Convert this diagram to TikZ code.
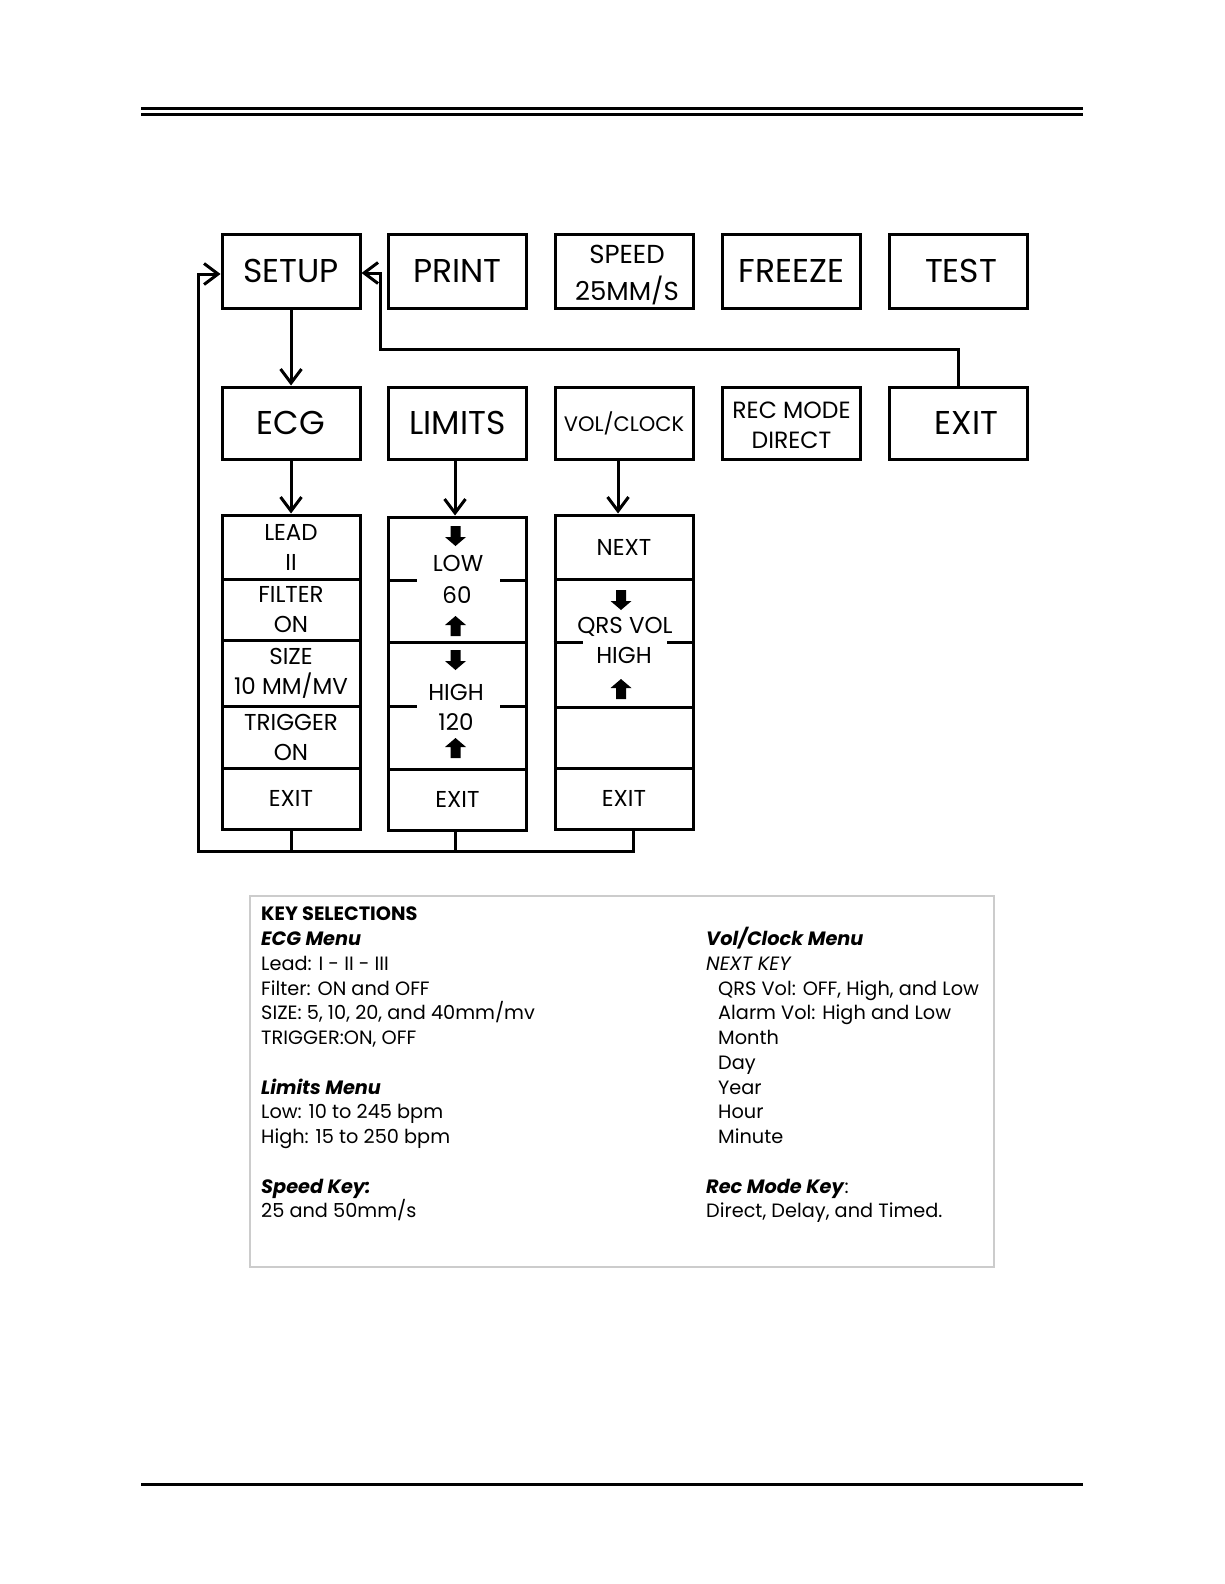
\documentclass[tikz,border=0pt]{standalone}
\usepackage{fontspec}
\setmainfont{Poppins}
\usetikzlibrary{arrows.meta}
\newcommand\fontbig{\fontsize{33}{40}\selectfont}
\newcommand\fontmid{\fontsize{26}{36}\selectfont}
\newcommand\fontsml{\fontsize{21}{30}\selectfont}
\newcommand\fontrec{\fontsize{23.5}{30}\selectfont}
\newcommand\fontcell{\fontsize{23}{30}\selectfont}
\newcommand\fontkey{\fontsize{19.3}{24.75}\selectfont}
\begin{document}
\begin{tikzpicture}[x=1pt,y=-1pt,
  key/.style={draw, line width=3pt, minimum width=138pt, inner sep=0pt, align=center},
  cell/.style={key, font=\fontcell},
  txt/.style={inner sep=0pt, align=center, font=\fontcell},
  wire/.style={draw, line width=3pt},
  arr/.style={wire, -{Straight Barb[length=14pt,width=21pt,line width=3pt]}},
  stub/.style={line width=3pt},
  dnarr/.pic={\fill (-5,-10) -- (5,-10) -- (5,1) -- (10.5,1) -- (0,10) -- (-10.5,1) -- (-5,1) -- cycle;},
  uparr/.pic={\fill (-5,10) -- (5,10) -- (5,-1) -- (10.5,-1) -- (0,-10) -- (-10.5,-1) -- (-5,-1) -- cycle;}
]
\useasboundingbox (0,0) rectangle (1224,1584);
% page rules
\draw[line width=3pt] (141,108.5) -- (1083,108.5);
\draw[line width=3pt] (141,114.5) -- (1083,114.5);
\draw[line width=3pt] (141,1484.5) -- (1083,1484.5);

% top row
\node[key, minimum height=74pt, font=\fontbig] (setup) at (291,271) {SETUP};
\node[key, minimum height=74pt, font=\fontbig] (print) at (457.5,271) {PRINT};
\node[key, minimum height=74pt, font=\fontmid] (speed) at (624,271) {};
\node[txt, font=\fontmid] (speedA) at (627,254) {SPEED};
\node[txt, font=\fontmid] (speedB) at (627,290) {25MM/S};
\node[key, minimum height=74pt, font=\fontbig] (freeze) at (791.5,271) {FREEZE};
\node[key, minimum height=74pt, font=\fontbig] (test) at (958.5,271) {\hspace*{5pt}TEST};
% second row
\node[key, minimum height=72pt, font=\fontbig] (ecg) at (291,423) {ECG};
\node[key, minimum height=72pt, font=\fontbig] (limits) at (457.5,423) {LIMITS};
\node[key, minimum height=72pt, font=\fontsml] (vol) at (624,423) {VOL/CLOCK};
\node[key, minimum height=72pt, font=\fontrec] (rec) at (791.5,423) {};
\node[txt, font=\fontrec] (recA) at (791.5,410) {REC MODE};
\node[txt, font=\fontrec] (recB) at (791.5,440) {DIRECT};
\node[key, minimum height=72pt, font=\fontbig] (exitb) at (958.5,423) {\hspace*{16pt}EXIT};

% ECG menu
\node[cell, minimum height=64pt] (lead) at (291,547) {LEAD\\II};
\node[cell, minimum height=61pt] (filter) at (291,609.5) {FILTER\\ON};
\node[cell, minimum height=66pt] (size) at (291,673) {SIZE\\10 MM/MV};
\node[cell, minimum height=62pt] (trigger) at (291,737) {TRIGGER\\ON};
\node[cell, minimum height=61pt] (ecgexit) at (291,798.5) {EXIT};

% Limits menu
\node[cell, minimum height=125pt] (limlow) at (457.5,579.5) {};
\node[cell, minimum height=127pt] (limhigh) at (457.5,705.5) {};
\node[cell, minimum height=61pt] (limexit) at (457.5,799.5) {EXIT};
\node[txt] (lowA) at (458,563) {LOW};
\node[txt] (lowB) at (457,595) {60};
\node[txt] (highA) at (456,692) {HIGH};
\node[txt] (highB) at (456,722) {120};
\draw[stub] (limlow.west |- 0,580) -- (417,580);
\draw[stub] (500,580) -- (limlow.east |- 0,580);
\draw[stub] (limhigh.west |- 0,706) -- (417,706);
\draw[stub] (500,706) -- (limhigh.east |- 0,706);
\pic at (455.5,536) {dnarr};
\pic at (455.5,626) {uparr};
\pic at (455.5,660) {dnarr};
\pic at (455.5,748) {uparr};

% Vol/Clock menu
\node[cell, minimum height=64pt] (next) at (624,547) {NEXT};
\node[cell, minimum height=128pt] (qrs) at (624,643) {};
\node[cell, minimum height=61pt] (blank) at (624,737.5) {};
\node[cell, minimum height=61pt] (volexit) at (624,798.5) {EXIT};
\node[txt] (qrsA) at (625,627) {QRS VOL};
\node[txt] (qrsB) at (624,655) {HIGH};
\draw[stub] (qrs.west |- 0,642) -- (583,642);
\draw[stub] (667,642) -- (qrs.east |- 0,642);
\pic at (621,600) {dnarr};
\pic at (621,689) {uparr};

% connectors
\coordinate (retc) at (380,349);
\coordinate (loopl) at (198,851);
\draw[arr] (setup.south) -- (ecg.north);
\draw[arr] (ecg.south) -- (lead.north);
\draw[arr] (limits.south -| 455,0) -- (limlow.north -| 455,0);
\draw[arr] (vol.south -| 618,0) -- (next.north -| 618,0);
\draw[arr] (exitb.north) |- (retc) |- ([yshift=-2pt]setup.east);
\draw[arr] (volexit.south -| 633,0) |- (loopl) |- ([yshift=-3pt]setup.west);
\draw[wire] (ecgexit.south) -- (ecgexit.south |- loopl);
\draw[wire] (limexit.south -| 455,0) -- (loopl -| 455,0);

% key selections
\node[draw=black!20, line width=1.5pt, minimum width=744pt, minimum height=371pt, inner sep=0pt, anchor=north west] (keybox) at (249,895) {};
\node[inner sep=0pt, anchor=north west, align=left, font=\fontkey] (keyleft) at (261,907) {%
\textbf{KEY SELECTIONS}\\
\textbf{\textit{ECG Menu}}\\
Lead: I - II - III\\
Filter: ON and OFF\\
SIZE: 5, 10, 20, and 40mm/mv\\
TRIGGER:ON, OFF\\
\mbox{}\\
\textbf{\textit{Limits Menu}}\\
Low: 10 to 245 bpm\\
High: 15 to 250 bpm\\
\mbox{}\\
\textbf{\textit{Speed Key:}}\\
25 and 50mm/s};
\node[inner sep=0pt, anchor=north west, align=left, font=\fontkey] (keyright) at (706,927) {%
\textbf{\textit{Vol/Clock Menu}}\\
\textit{NEXT KEY}\\
\hspace*{12pt}QRS Vol: OFF, High, and Low\\
\hspace*{12pt}Alarm Vol: High and Low\\
\hspace*{12pt}Month\\
\hspace*{12pt}Day\\
\hspace*{12pt}Year\\
\hspace*{12pt}Hour\\
\hspace*{12pt}Minute\\
\mbox{}\\
\textbf{\textit{Rec Mode Key}}:\\
Direct, Delay, and Timed.};
\end{tikzpicture}
\end{document}
